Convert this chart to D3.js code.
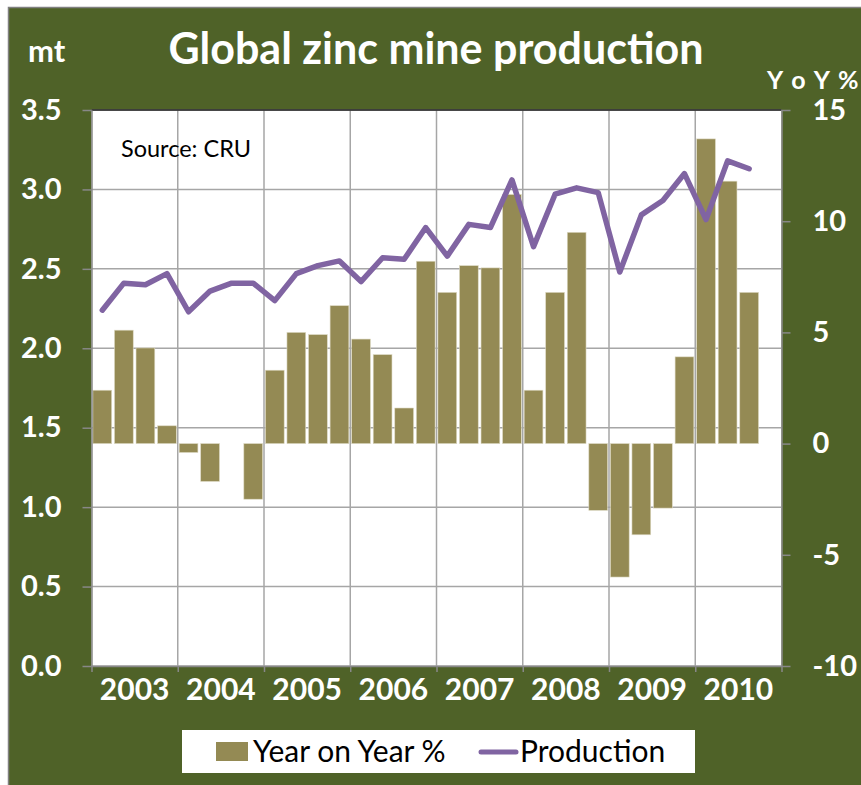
<!DOCTYPE html>
<html>
<head>
<meta charset="utf-8">
<script src="https://cdn.jsdelivr.net/npm/d3@7"></script>
<style>
  body { margin: 0; background: #fff; }
  svg { display: block; font-family: Lato, "Open Sans", sans-serif; }
</style>
</head>
<body>
<svg id="chart" width="861" height="785"></svg>
<script>
// quarterly data, 2003 Q1 .. 2010 Q4 (last quarter not reported yet)
var quarters = ["2003 Q1","2003 Q2","2003 Q3","2003 Q4","2004 Q1","2004 Q2","2004 Q3","2004 Q4",
                "2005 Q1","2005 Q2","2005 Q3","2005 Q4","2006 Q1","2006 Q2","2006 Q3","2006 Q4",
                "2007 Q1","2007 Q2","2007 Q3","2007 Q4","2008 Q1","2008 Q2","2008 Q3","2008 Q4",
                "2009 Q1","2009 Q2","2009 Q3","2009 Q4","2010 Q1","2010 Q2","2010 Q3","2010 Q4"];
var yoy = [2.4, 5.1, 4.3, 0.8, -0.4, -1.7, 0.0, -2.5,
           3.3, 5.0, 4.9, 6.2, 4.7, 4.0, 1.6, 8.2,
           6.8, 8.0, 7.9, 11.2, 2.4, 6.8, 9.5, -3.0,
           -6.0, -4.1, -2.9, 3.9, 13.7, 11.8, 6.8, null];
var production = [2.24, 2.41, 2.40, 2.47, 2.23, 2.36, 2.41, 2.41,
                  2.30, 2.47, 2.52, 2.55, 2.42, 2.57, 2.56, 2.76,
                  2.58, 2.78, 2.76, 3.06, 2.64, 2.97, 3.01, 2.98,
                  2.48, 2.84, 2.93, 3.10, 2.81, 3.18, 3.13, null];
var years = ["2003","2004","2005","2006","2007","2008","2009","2010"];
var leftTicks = [0, 0.5, 1.0, 1.5, 2.0, 2.5, 3.0, 3.5];
var rightTicks = [-10, -5, 0, 5, 10, 15];

var W = 861, H = 785;
// plot box (note: "top" is reserved on window, so use pTop etc.)
var pLeft = 91.5, pRight = 781.5, pTop = 110, pBottom = 666;
var green = "#4f6228", barCol = "#948a54", lineCol = "#8064a2", gridCol = "#a6a6a6";

var svg = d3.select("#chart");

// frame
svg.append("rect")
  .attr("x", 8.5).attr("y", 7.5)
  .attr("width", W).attr("height", H)
  .attr("fill", green)
  .attr("stroke", "#808080").attr("stroke-width", 1.5);

var x = d3.scaleBand()
  .domain(quarters)
  .range([pLeft, pRight])
  .paddingInner(0.13)
  .paddingOuter(0.065);
var xYear = d3.scaleBand().domain(years).range([pLeft, pRight]);
var xEdge = d3.scaleLinear().domain([0, years.length]).range([pLeft, pRight]);
var yL = d3.scaleLinear().domain([0, 3.5]).range([pBottom, pTop]);
var yR = d3.scaleLinear().domain([-10, 15]).range([pBottom, pTop]);

// plot area
svg.append("rect")
  .attr("x", pLeft).attr("y", pTop)
  .attr("width", pRight - pLeft).attr("height", pBottom - pTop)
  .attr("fill", "#fff");

// gridlines
svg.append("g")
  .selectAll("line")
  .data(leftTicks)
  .enter().append("line")
    .attr("x1", pLeft).attr("x2", pRight)
    .attr("y1", function(d){ return yL(d); })
    .attr("y2", function(d){ return yL(d); })
    .attr("stroke", gridCol).attr("stroke-width", 1.5);
svg.append("g")
  .selectAll("line")
  .data(d3.range(1, years.length))
  .enter().append("line")
    .attr("x1", function(d){ return xEdge(d); })
    .attr("x2", function(d){ return xEdge(d); })
    .attr("y1", pTop).attr("y2", pBottom)
    .attr("stroke", gridCol).attr("stroke-width", 1.5);

// YoY bars on the right axis
svg.append("g")
  .selectAll("rect")
  .data(quarters.map(function(q, i){ return {q: q, v: yoy[i]}; }).filter(function(d){ return d.v !== null; }))
  .enter().append("rect")
    .attr("x", function(d){ return x(d.q); })
    .attr("width", x.bandwidth())
    .attr("y", function(d){ return yR(Math.max(0, d.v)); })
    .attr("height", function(d){ return Math.abs(yR(d.v) - yR(0)); })
    .attr("fill", barCol)
    .attr("stroke", "#ddd9c3").attr("stroke-width", 0.6);

// production line on the left axis
var line = d3.line()
  .defined(function(d){ return d.v !== null; })
  .x(function(d){ return x(d.q) + x.bandwidth() / 2; })
  .y(function(d){ return yL(d.v); });
svg.append("path")
  .datum(quarters.map(function(q, i){ return {q: q, v: production[i]}; }))
  .attr("d", line)
  .attr("fill", "none")
  .attr("stroke", lineCol).attr("stroke-width", 5.5)
  .attr("stroke-linejoin", "round").attr("stroke-linecap", "round");

// top edge of plot area
svg.append("line")
  .attr("x1", pLeft).attr("x2", pRight).attr("y1", pTop).attr("y2", pTop)
  .attr("stroke", "#222").attr("stroke-width", 1.5);

function styleAxis(g){
  g.select(".domain").attr("stroke", "#888").attr("stroke-width", 1.5);
  g.selectAll(".tick line").attr("stroke", "#888").attr("stroke-width", 1.5);
  g.selectAll("text")
    .attr("fill", "#fff")
    .attr("font-family", "Lato, sans-serif")
    .attr("font-weight", "bold")
    .attr("font-size", 29);
}

svg.append("g")
  .attr("transform", "translate(" + pLeft + ",0)")
  .call(d3.axisLeft(yL).tickValues(leftTicks).tickFormat(d3.format(".1f")).tickSize(9).tickSizeOuter(0).tickPadding(21))
  .call(styleAxis);

// plain hyphen for negatives, like the original
svg.append("g")
  .attr("transform", "translate(" + pRight + ",0)")
  .call(d3.axisRight(yR).tickValues(rightTicks).tickFormat(function(d){ return String(d); }).tickSize(9).tickSizeOuter(0).tickPadding(22))
  .call(styleAxis);

// bottom axis: tick marks at year boundaries, labels centred on years
svg.append("g")
  .attr("transform", "translate(0," + pBottom + ")")
  .call(d3.axisBottom(xEdge).tickValues(d3.range(0, years.length + 1)).tickFormat("").tickSize(6).tickSizeOuter(0))
  .call(styleAxis);
svg.append("g")
  .attr("transform", "translate(0," + pBottom + ")")
  .call(d3.axisBottom(xYear).tickSize(0).tickPadding(13))
  .call(styleAxis)
  .call(function(g){ g.select(".domain").remove(); g.selectAll("text").attr("font-size", 30); });

// titles
svg.append("text")
  .attr("x", 436).attr("y", 64)
  .attr("text-anchor", "middle")
  .attr("fill", "#fff").attr("font-weight", "bold").attr("font-size", 43)
  .text("Global zinc mine production");
svg.append("text")
  .attr("x", 28).attr("y", 62)
  .attr("fill", "#fff").attr("font-weight", "bold").attr("font-size", 31)
  .text("mt");
svg.append("text")
  .attr("x", 860).attr("y", 89)
  .attr("text-anchor", "end")
  .attr("fill", "#fff").attr("font-weight", "bold").attr("font-size", 25)
  .attr("letter-spacing", 1.5)
  .text("Y o Y %");
svg.append("text")
  .attr("x", 121).attr("y", 157)
  .attr("fill", "#000").attr("font-size", 23.5)
  .text("Source: CRU");

// legend
var lg = svg.append("g");
lg.append("rect")
  .attr("x", 182).attr("y", 730).attr("width", 513).attr("height", 43)
  .attr("fill", "#fff");
lg.append("rect")
  .attr("x", 216).attr("y", 742).attr("width", 32).attr("height", 19)
  .attr("fill", barCol);
lg.append("text")
  .attr("x", 253).attr("y", 762)
  .attr("fill", "#000").attr("font-size", 30)
  .text("Year on Year %");
lg.append("line")
  .attr("x1", 481).attr("x2", 516).attr("y1", 752).attr("y2", 752)
  .attr("stroke", lineCol).attr("stroke-width", 5).attr("stroke-linecap", "round");
lg.append("text")
  .attr("x", 520).attr("y", 762)
  .attr("fill", "#000").attr("font-size", 30)
  .text("Production");
</script>
</body>
</html>
